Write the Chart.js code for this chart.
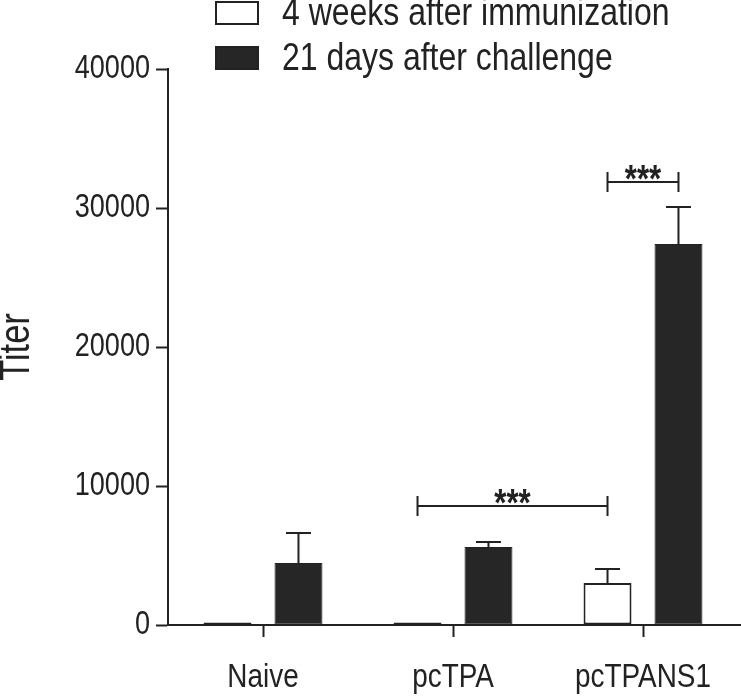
<!DOCTYPE html>
<html>
<head>
<meta charset="utf-8">
<script src="https://cdn.jsdelivr.net/npm/chart.js@4/dist/chart.umd.min.js"></script>
<style>
  html, body { margin: 0; padding: 0; background: #ffffff; }
  #wrap { width: 741px; height: 696px; }
</style>
</head>
<body>
<div id="wrap"><canvas id="c" width="741" height="696"></canvas></div>
<script>
// ---- data ----
const categories = ['Naive', 'pcTPA', 'pcTPANS1'];
const seriesNames = ['4 weeks after immunization', '21 days after challenge'];
const immunizationTiter = [180, 180, 3020];
const immunizationErr = [0, 0, 1010];
const challengeTiter = [4460, 5610, 27410];
const challengeErr = [2160, 360, 2660];
const yTicks = [0, 10000, 20000, 30000, 40000];
// significance brackets: [datasetIndex, categoryIndex] pairs, bracket level (titer units), label
const sigFrom = [[0, 1], [0, 2]];
const sigTo = [[0, 2], [1, 2]];
const sigLevel = [8560, 31870];
const sigLabel = ['***', '***'];

const INK = '#222222';

// The reference uses an Arial-Narrow-like face. Use Liberation Sans Narrow if present,
// otherwise condense Liberation Sans horizontally when text is painted.
let FONT = "'Liberation Sans', Arial, Helvetica, sans-serif";
let K = 0.82;
(function detectNarrow() {
  const c = document.createElement('canvas').getContext('2d');
  const s = 'abcdefghijklmnopqrstuvwxyz0123456789';
  c.font = "40px monospace";
  const w1 = c.measureText(s).width;
  c.font = "40px 'Liberation Sans Narrow', monospace";
  const w2 = c.measureText(s).width;
  if (Math.abs(w1 - w2) > 1) {
    FONT = "'Liberation Sans Narrow', 'Arial Narrow', sans-serif";
    K = 1;
  }
})();
if (K !== 1) {
  const proto = CanvasRenderingContext2D.prototype;
  const origFill = proto.fillText;
  proto.fillText = function (text, x, y, maxWidth) {
    this.save();
    this.translate(x, y);
    this.scale(K, 1);
    if (maxWidth !== undefined && maxWidth !== null) origFill.call(this, text, 0, 0, maxWidth / K);
    else origFill.call(this, text, 0, 0);
    this.restore();
  };
}

const errorData = [immunizationErr, challengeErr];

const errorBarPlugin = {
  id: 'errorBars',
  afterDatasetsDraw(chart) {
    const ctx = chart.ctx;
    const y = chart.scales.y;
    ctx.save();
    ctx.strokeStyle = INK;
    ctx.lineWidth = 2;
    chart.data.datasets.forEach((ds, di) => {
      const meta = chart.getDatasetMeta(di);
      meta.data.forEach((bar, i) => {
        const e = errorData[di][i];
        if (!e) return;
        const yTop = y.getPixelForValue(ds.data[i] + e);
        const cap = 12.5;
        ctx.beginPath();
        ctx.moveTo(bar.x, bar.y);
        ctx.lineTo(bar.x, yTop);
        ctx.moveTo(bar.x - cap, yTop);
        ctx.lineTo(bar.x + cap, yTop);
        ctx.stroke();
      });
    });
    ctx.restore();
  }
};

const sigPlugin = {
  id: 'sigBrackets',
  afterDatasetsDraw(chart) {
    const ctx = chart.ctx;
    const y = chart.scales.y;
    ctx.save();
    ctx.strokeStyle = INK;
    ctx.fillStyle = INK;
    ctx.lineWidth = 2;
    sigLevel.forEach((lvl, k) => {
      const a = chart.getDatasetMeta(sigFrom[k][0]).data[sigFrom[k][1]];
      const b = chart.getDatasetMeta(sigTo[k][0]).data[sigTo[k][1]];
      const py = y.getPixelForValue(lvl);
      ctx.beginPath();
      ctx.moveTo(a.x, py - 10); ctx.lineTo(a.x, py + 10);
      ctx.moveTo(b.x, py - 10); ctx.lineTo(b.x, py + 10);
      ctx.moveTo(a.x, py); ctx.lineTo(b.x, py);
      ctx.stroke();
      ctx.font = 'bold 38px ' + FONT;
      ctx.textAlign = 'center';
      ctx.textBaseline = 'alphabetic';
      ctx.fillText(sigLabel[k], (a.x + b.x) / 2, py + 10);
    });
    ctx.restore();
  }
};

const axisExtendPlugin = {
  id: 'axisExtend',
  afterDraw(chart) {
    const ctx = chart.ctx;
    const yb = chart.scales.y.getPixelForValue(0);
    ctx.save();
    ctx.strokeStyle = INK;
    ctx.lineWidth = 2;
    ctx.beginPath();
    ctx.moveTo(chart.chartArea.right - 1, yb);
    ctx.lineTo(chart.width, yb);
    ctx.stroke();
    ctx.restore();
  }
};

const legendPlugin = {
  id: 'manualLegend',
  afterDraw(chart) {
    const ctx = chart.ctx;
    ctx.save();
    const rows = [13, 58];
    chart.data.datasets.forEach((ds, di) => {
      const cy = rows[di];
      ctx.fillStyle = ds.backgroundColor;
      ctx.fillRect(216, cy - 11, 42, 22);
      ctx.strokeStyle = INK;
      ctx.lineWidth = 2;
      ctx.strokeRect(216, cy - 11, 42, 22);
      ctx.fillStyle = INK;
      ctx.font = '39px ' + FONT;
      ctx.textAlign = 'left';
      ctx.textBaseline = 'middle';
      ctx.fillText(ds.label, 282, cy + 1);
    });
    ctx.restore();
  }
};

new Chart(document.getElementById('c'), {
  type: 'bar',
  data: {
    labels: categories,
    datasets: [
      {
        label: seriesNames[0],
        data: immunizationTiter,
        backgroundColor: '#ffffff',
        borderColor: INK,
        borderWidth: 2,
        borderSkipped: false
      },
      {
        label: seriesNames[1],
        data: challengeTiter,
        backgroundColor: '#262626',
        borderColor: INK,
        borderWidth: 1,
        borderSkipped: false
      }
    ]
  },
  options: {
    responsive: false,
    animation: false,
    devicePixelRatio: 1,
    categoryPercentage: 0.747,
    barPercentage: 0.676,
    layout: { padding: { top: 69, right: 3, bottom: 0, left: 0 } },
    plugins: {
      legend: { display: false },
      tooltip: { enabled: false }
    },
    scales: {
      x: {
        grid: {
          offset: false,
          drawOnChartArea: false,
          drawTicks: true,
          tickLength: 12,
          tickWidth: 2,
          tickColor: INK
        },
        border: { display: true, color: INK, width: 2 },
        ticks: {
          color: INK,
          padding: 20,
          font: { family: FONT, size: 34 },
          maxRotation: 0,
          autoSkip: false
        },
        afterFit(scale) {
          scale.height = 71;
          scale.paddingLeft = 0;
          scale.paddingRight = 0;
        }
      },
      y: {
        min: 0,
        max: 40000,
        afterBuildTicks(scale) { scale.ticks = yTicks.map(v => ({ value: v })); },
        grid: {
          drawOnChartArea: false,
          drawTicks: true,
          tickLength: 12,
          tickWidth: 2,
          tickColor: INK
        },
        border: { display: true, color: INK, width: 2 },
        ticks: {
          color: INK,
          padding: 6,
          font: { family: FONT, size: 33 },
          callback: (v) => String(v)
        },
        title: {
          display: true,
          text: 'Titer',
          color: INK,
          font: { family: FONT, size: 42, lineHeight: 0.85 },
          padding: { top: 0, bottom: 0 }
        },
        afterFit(scale) {
          scale.width = 168;
          scale.paddingTop = 0;
          scale.paddingBottom = 0;
        }
      }
    }
  },
  plugins: [errorBarPlugin, sigPlugin, axisExtendPlugin, legendPlugin]
});
</script>
</body>
</html>
